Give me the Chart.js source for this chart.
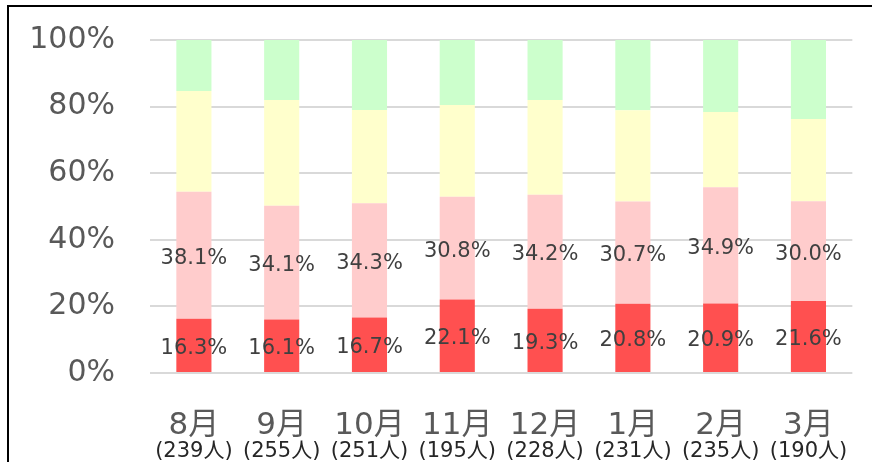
<!DOCTYPE html>
<html>
<head>
<meta charset="utf-8">
<script src="https://cdn.jsdelivr.net/npm/chart.js@4/dist/chart.umd.min.js"></script>
<style>
html,body{margin:0;padding:0;background:#fff;overflow:hidden;width:872px;height:462px;}
#frame{position:absolute;left:7px;top:5px;width:900px;height:500px;border-top:2px solid #000;border-left:2px solid #000;}
#wrap{position:absolute;left:0;top:0;width:872px;height:462px;}
</style>
</head>
<body>
<div id="frame"></div>
<div id="wrap"><canvas id="c" width="872" height="462"></canvas></div>
<script>
const months = ['8月','9月','10月','11月','12月','1月','2月','3月'];
const counts = ['(239人)','(255人)','(251人)','(195人)','(228人)','(231人)','(235人)','(190人)'];
const red    = [16.3, 16.1, 16.7, 22.1, 19.3, 20.8, 20.9, 21.6];
const pink   = [38.1, 34.1, 34.3, 30.8, 34.2, 30.7, 34.9, 30.0];
const yellow = [30.3, 31.8, 28.0, 27.6, 28.5, 27.4, 22.6, 24.7];
const green  = [15.3, 18.0, 21.0, 19.5, 18.0, 21.1, 21.6, 23.7];
const yTicks = [0, 20, 40, 60, 80, 100];

const FONT = "'DejaVu Sans', 'Noto Sans CJK JP', sans-serif";

const labelPlugin = {
  id: 'segLabels',
  afterDatasetsDraw(chart) {
    const ctx = chart.ctx;
    ctx.save();
    ctx.font = '21px ' + FONT;
    ctx.fillStyle = '#404040';
    ctx.textAlign = 'center';
    ctx.textBaseline = 'middle';
    [0, 1].forEach(di => {
      const meta = chart.getDatasetMeta(di);
      const data = chart.data.datasets[di].data;
      meta.data.forEach((el, i) => {
        const y = (el.y + el.base) / 2 + 3;
        ctx.fillText(data[i].toFixed(1) + '%', el.x, y);
      });
    });
    ctx.restore();
  }
};

const bp = 0.4;
new Chart(document.getElementById('c'), {
  type: 'bar',
  data: {
    labels: months,
    datasets: [
      {data: red, backgroundColor: '#FF5050'},
      {data: pink, backgroundColor: '#FFCCCC'},
      {data: yellow, backgroundColor: '#FFFFCC'},
      {data: green, backgroundColor: '#CCFFCC'}
    ].map(d => Object.assign(d, {barPercentage: bp, categoryPercentage: 1, borderWidth: 0}))
  },
  options: {
    responsive: false,
    animation: false,
    events: [],
    layout: {padding: {top: 40, right: 19, left: 0, bottom: 0}},
    plugins: {legend: {display: false}, tooltip: {enabled: false}},
    scales: {
      x: {
        type: 'category', stacked: true, position: 'bottom', weight: 1,
        grid: {display: false, drawTicks: false}, border: {display: false},
        ticks: {font: {size: 31, family: FONT, lineHeight: 1}, color: '#595959', padding: 37, maxRotation: 0, autoSkip: false},
        afterFit(s) { s.height = 67; }
      },
      x2: {
        type: 'category', labels: counts, position: 'bottom', weight: 2,
        grid: {display: false, drawTicks: false}, border: {display: false},
        ticks: {font: {size: 21, family: FONT, lineHeight: 1}, color: '#262626', padding: 1, maxRotation: 0, autoSkip: false},
        afterFit(s) { s.height = 22; }
      },
      y: {
        stacked: true, min: 0, max: 100,
        afterBuildTicks(s) { s.ticks = yTicks.map(v => ({value: v})); },
        grid: {color: '#d9d9d9', lineWidth: 2, drawTicks: false}, border: {display: false},
        ticks: {font: {size: 30, family: FONT}, color: '#595959', padding: 35, callback: v => v + '%'},
        afterFit(s) { s.width = 150; s.paddingTop = 0; s.paddingBottom = 0; }
      }
    }
  },
  plugins: [labelPlugin]
});
</script>
</body>
</html>
